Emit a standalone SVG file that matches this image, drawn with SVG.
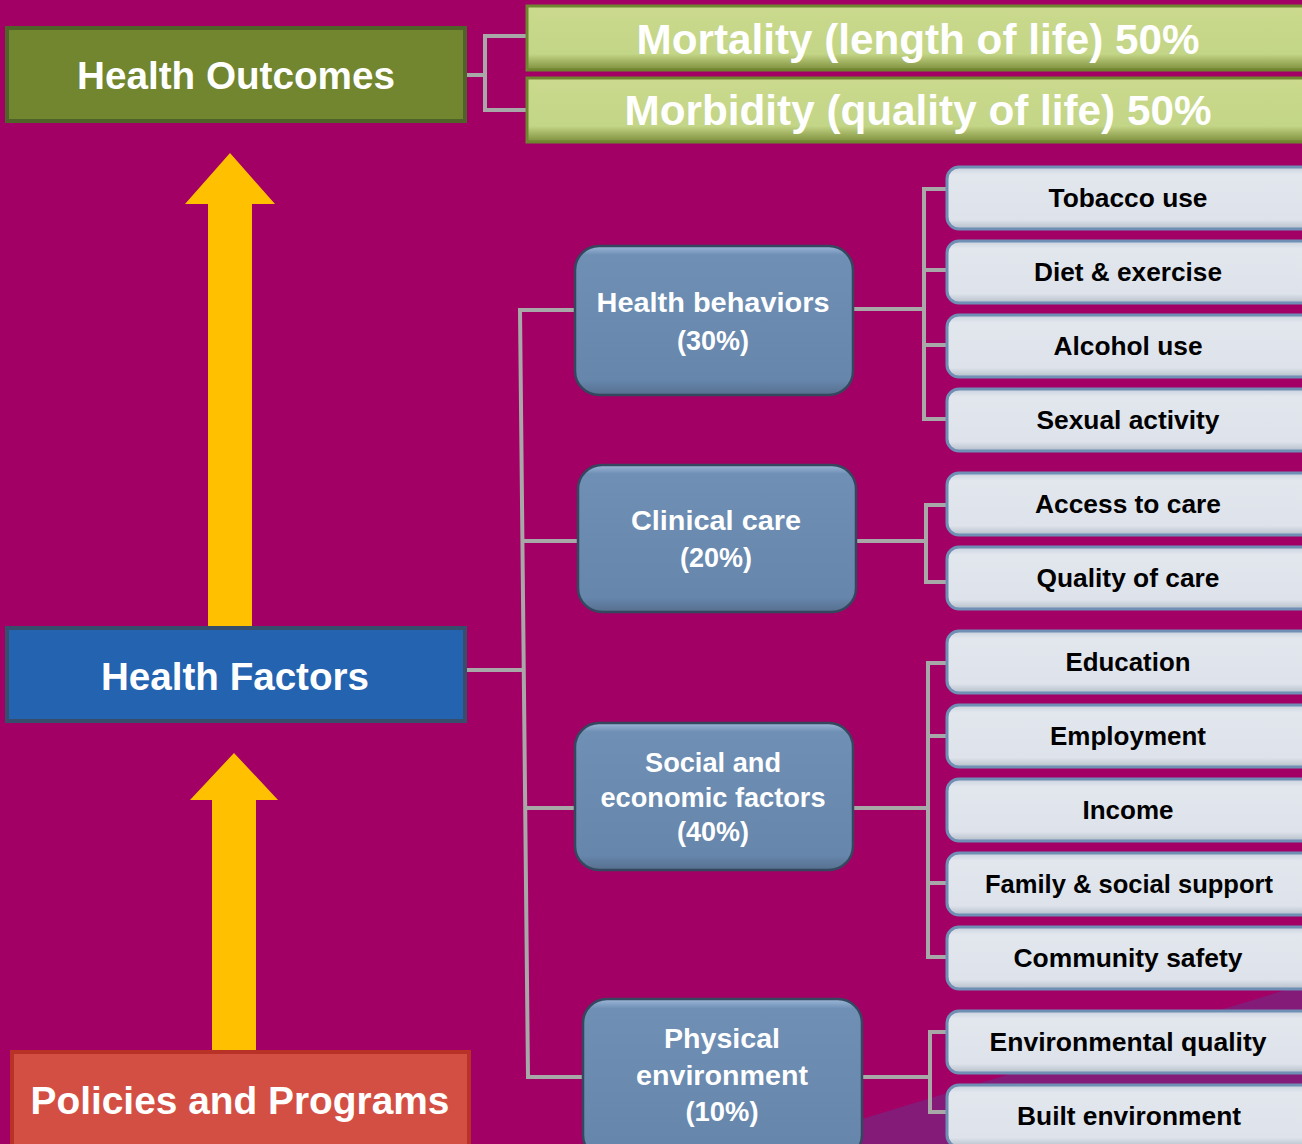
<svg xmlns="http://www.w3.org/2000/svg" width="1302" height="1144" viewBox="0 0 1302 1144">
<defs>
<linearGradient id="gGreen" x1="0" y1="0" x2="0" y2="1">
<stop offset="0" stop-color="#CBDA8E"/>
<stop offset="0.75" stop-color="#C3D586"/>
<stop offset="1" stop-color="#7D8F3B"/>
</linearGradient>
<linearGradient id="gBlue" x1="0" y1="0" x2="0" y2="1">
<stop offset="0" stop-color="#9DB8D8"/>
<stop offset="0.06" stop-color="#6F8FB5"/>
<stop offset="0.9" stop-color="#6686AC"/>
<stop offset="1" stop-color="#566F8E"/>
</linearGradient>
<linearGradient id="gLight" x1="0" y1="0" x2="0" y2="1">
<stop offset="0" stop-color="#C9D1DC"/>
<stop offset="0.12" stop-color="#E2E7EE"/>
<stop offset="0.85" stop-color="#DEE3EB"/>
<stop offset="1" stop-color="#B5BEC9"/>
</linearGradient>
<marker id="none" markerWidth="1" markerHeight="1"/>
</defs>
<style>
.hdr{font-family:"Liberation Sans",Arial,sans-serif;font-weight:bold;fill:#FFFFFF;text-anchor:middle}
.big{font-size:38px}
.bar{font-size:42px}
.mid{font-family:"Liberation Sans",Arial,sans-serif;font-weight:bold;fill:#FFFFFF;text-anchor:middle;font-size:27px}
.leaf{font-family:"Liberation Sans",Arial,sans-serif;font-weight:bold;fill:#000000;text-anchor:middle;font-size:25px}
.bluebox{fill:url(#gBlue);stroke:#34475E;stroke-width:2.5}
.leafbox{fill:url(#gLight);stroke:#6F8FB5;stroke-width:3}
.greenbar{fill:url(#gGreen);stroke:#6F8530;stroke-width:3}
.conn{fill:none;stroke:#A8A8A8;stroke-width:4}
.arrow{fill:#FFC000}
</style>
<rect x="0" y="0" width="1302" height="1144" fill="#A20064"/>
<polygon points="1302,985 780,1144 1302,1144" fill="#841B79"/>

<g id="connectors">
<polyline class="conn" points="466,75 485,75"/>
<polyline class="conn" points="527,36 485,36 485,110 527,110"/>
<polyline class="conn" points="466,670 522,670"/>
<polyline class="conn" points="576,310 520,310 528,1077 584,1077"/>
<line class="conn" x1="522" y1="541" x2="579" y2="541"/>
<line class="conn" x1="526" y1="808" x2="576" y2="808"/>
<line class="conn" x1="853" y1="309" x2="924" y2="309"/>
<polyline class="conn" points="947,189 924,189 924,419 947,419"/>
<line class="conn" x1="924" y1="270" x2="947" y2="270"/>
<line class="conn" x1="924" y1="345" x2="947" y2="345"/>
<line class="conn" x1="856" y1="541" x2="926" y2="541"/>
<polyline class="conn" points="947,505 926,505 926,582 947,582"/>
<line class="conn" x1="853" y1="808" x2="928" y2="808"/>
<polyline class="conn" points="947,663 928,663 928,957 947,957"/>
<line class="conn" x1="928" y1="736" x2="947" y2="736"/>
<line class="conn" x1="928" y1="883" x2="947" y2="883"/>
<line class="conn" x1="862" y1="1077" x2="930" y2="1077"/>
<polyline class="conn" points="947,1032 930,1032 930,1112 947,1112"/>
</g>

<g id="arrow-up-1"><polygon class="arrow" points="230,153 275,204 252,204 252,626 208,626 208,204 185,204"/></g>
<g id="arrow-up-2"><polygon class="arrow" points="234,753 278,800 256,800 256,1052 212,1052 212,800 190,800"/></g>

<g id="health-outcomes">
<rect x="7" y="28" width="458" height="93" fill="#71862F" stroke="#4F6228" stroke-width="4"/>
<text class="hdr big" x="236" y="89" textLength="318" lengthAdjust="spacingAndGlyphs">Health Outcomes</text>
</g>
<g id="mortality">
<rect x="527" y="6" width="790" height="64" class="greenbar"/>
<text class="hdr bar" x="918" y="54" textLength="563" lengthAdjust="spacingAndGlyphs">Mortality (length of life) 50%</text>
</g>
<g id="morbidity">
<rect x="527" y="78" width="790" height="64" class="greenbar"/>
<text class="hdr bar" x="918" y="125" textLength="587" lengthAdjust="spacingAndGlyphs">Morbidity (quality of life) 50%</text>
</g>

<g id="health-factors">
<rect x="7" y="628" width="458" height="93" fill="#2463B0" stroke="#364E6B" stroke-width="4"/>
<text class="hdr big" x="235" y="690" textLength="268" lengthAdjust="spacingAndGlyphs">Health Factors</text>
</g>
<g id="policies">
<rect x="12" y="1052" width="457" height="100" fill="#D44F43" stroke="#B83228" stroke-width="4"/>
<text class="hdr big" x="240" y="1114" textLength="419" lengthAdjust="spacingAndGlyphs">Policies and Programs</text>
</g>

<g id="health-behaviors">
<rect class="bluebox" x="575" y="246" width="278" height="149" rx="24"/>
<text class="mid" x="713" y="312" textLength="233" lengthAdjust="spacingAndGlyphs">Health behaviors</text>
<text class="mid" x="713" y="350">(30%)</text>
</g>
<g id="clinical-care">
<rect class="bluebox" x="578" y="465" width="278" height="147" rx="24"/>
<text class="mid" x="716" y="530" textLength="170" lengthAdjust="spacingAndGlyphs">Clinical care</text>
<text class="mid" x="716" y="567">(20%)</text>
</g>
<g id="social-economic">
<rect class="bluebox" x="575" y="723" width="278" height="147" rx="24"/>
<text class="mid" x="713" y="772" textLength="136" lengthAdjust="spacingAndGlyphs">Social and</text>
<text class="mid" x="713" y="807" textLength="225" lengthAdjust="spacingAndGlyphs">economic factors</text>
<text class="mid" x="713" y="841">(40%)</text>
</g>
<g id="physical-environment">
<rect class="bluebox" x="583" y="999" width="279" height="160" rx="24"/>
<text class="mid" x="722" y="1048" textLength="116" lengthAdjust="spacingAndGlyphs">Physical</text>
<text class="mid" x="722" y="1085" textLength="172" lengthAdjust="spacingAndGlyphs">environment</text>
<text class="mid" x="722" y="1121" textLength="73" lengthAdjust="spacingAndGlyphs">(10%)</text>
</g>

<g id="tobacco-use"><rect class="leafbox" x="947" y="167" width="370" height="62" rx="12"/><text class="leaf" x="1128" y="207" textLength="159" lengthAdjust="spacingAndGlyphs">Tobacco use</text></g>
<g id="diet-exercise"><rect class="leafbox" x="947" y="241" width="370" height="62" rx="12"/><text class="leaf" x="1128" y="281" textLength="188" lengthAdjust="spacingAndGlyphs">Diet &amp; exercise</text></g>
<g id="alcohol-use"><rect class="leafbox" x="947" y="315" width="370" height="62" rx="12"/><text class="leaf" x="1128" y="355" textLength="149" lengthAdjust="spacingAndGlyphs">Alcohol use</text></g>
<g id="sexual-activity"><rect class="leafbox" x="947" y="389" width="370" height="62" rx="12"/><text class="leaf" x="1128" y="429" textLength="183" lengthAdjust="spacingAndGlyphs">Sexual activity</text></g>
<g id="access-to-care"><rect class="leafbox" x="947" y="473" width="370" height="62" rx="12"/><text class="leaf" x="1128" y="513" textLength="186" lengthAdjust="spacingAndGlyphs">Access to care</text></g>
<g id="quality-of-care"><rect class="leafbox" x="947" y="547" width="370" height="62" rx="12"/><text class="leaf" x="1128" y="587" textLength="183" lengthAdjust="spacingAndGlyphs">Quality of care</text></g>
<g id="education"><rect class="leafbox" x="947" y="631" width="370" height="62" rx="12"/><text class="leaf" x="1128" y="671" textLength="125" lengthAdjust="spacingAndGlyphs">Education</text></g>
<g id="employment"><rect class="leafbox" x="947" y="705" width="370" height="62" rx="12"/><text class="leaf" x="1128" y="745" textLength="156" lengthAdjust="spacingAndGlyphs">Employment</text></g>
<g id="income"><rect class="leafbox" x="947" y="779" width="370" height="62" rx="12"/><text class="leaf" x="1128" y="819" textLength="91" lengthAdjust="spacingAndGlyphs">Income</text></g>
<g id="family-social-support"><rect class="leafbox" x="947" y="853" width="370" height="62" rx="12"/><text class="leaf" x="1129" y="893" textLength="288" lengthAdjust="spacingAndGlyphs">Family &amp; social support</text></g>
<g id="community-safety"><rect class="leafbox" x="947" y="927" width="370" height="62" rx="12"/><text class="leaf" x="1128" y="967" textLength="229" lengthAdjust="spacingAndGlyphs">Community safety</text></g>
<g id="environmental-quality"><rect class="leafbox" x="947" y="1011" width="370" height="62" rx="12"/><text class="leaf" x="1128" y="1051" textLength="277" lengthAdjust="spacingAndGlyphs">Environmental quality</text></g>
<g id="built-environment"><rect class="leafbox" x="947" y="1085" width="370" height="62" rx="12"/><text class="leaf" x="1129" y="1125" textLength="224" lengthAdjust="spacingAndGlyphs">Built environment</text></g>
</svg>
